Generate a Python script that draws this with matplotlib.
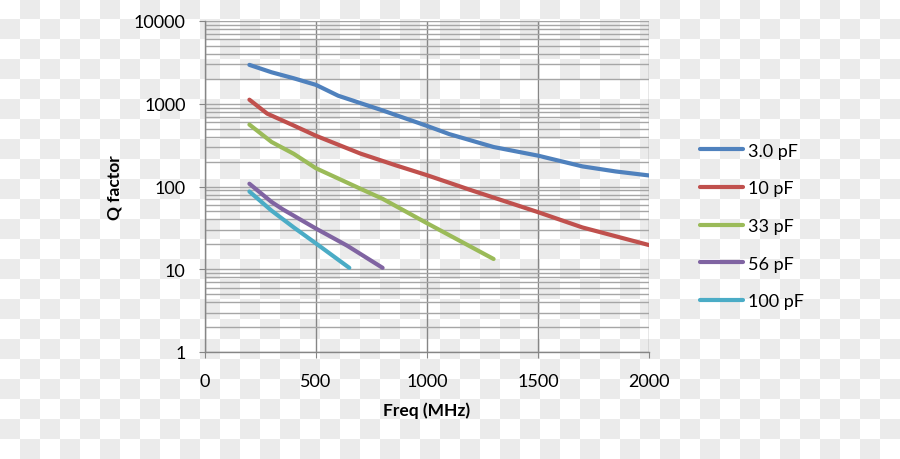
import numpy as np
import matplotlib
matplotlib.use("Agg")
import matplotlib.pyplot as plt
from matplotlib.ticker import FixedLocator, FuncFormatter, LogLocator, NullFormatter

plt.rcParams['font.family'] = ['Lato', 'DejaVu Sans']

# data (MHz, Q)
f_3p0 = [200, 300, 400, 500, 600, 800, 1000, 1100, 1300, 1500, 1700, 1850, 2000]
q_3p0 = [2950, 2400, 2030, 1690, 1250, 830, 540, 430, 300, 236, 175, 152, 136]

f_10 = [200, 280, 400, 500, 700, 860, 1000, 1200, 1500, 1700, 2000]
q_10 = [1120, 760, 545, 410, 250, 180, 137, 90, 49, 32, 19.6]

f_33 = [200, 300, 400, 500, 700, 800, 1000, 1300]
q_33 = [560, 345, 248, 166, 94, 71, 36, 13.3]

f_56 = [200, 300, 350, 500, 640, 800]
q_56 = [108, 65, 53, 31, 19.3, 10.4]

f_100 = [200, 300, 400, 500, 650]
q_100 = [87, 51, 32, 20.5, 10.4]

labels = ['3.0 pF', '10 pF', '33 pF', '56 pF', '100 pF']
colors = ['#4F81BD', '#C0504D', '#9BBB59', '#8064A2', '#4BACC6']

fig = plt.figure(figsize=(9, 4.6), dpi=100)

# checkerboard background
yy, xx = np.indices((460, 900))
board = np.where(((xx // 20) + (yy // 20)) % 2 == 1, 0.922, 1.0)
bg = fig.figimage(np.dstack([board, board, board]), 0, 0, origin='upper')
bg.set_zorder(-10)

ax = fig.add_axes([205/900, 1-353/460, 444/900, 331/460])
ax.set_facecolor('none')

series = [(f_3p0, q_3p0), (f_10, q_10), (f_33, q_33), (f_56, q_56), (f_100, q_100)]
for (f, q), lab, c in zip(series, labels, colors):
    ax.plot(f, q, color=c, lw=3, label=lab, solid_capstyle='round', zorder=3)

ax.set_yscale('log')
ax.set_xlim(0, 2000)
ax.set_ylim(1, 10000)
ax.xaxis.set_major_locator(FixedLocator([0, 500, 1000, 1500, 2000]))
ax.yaxis.set_major_locator(FixedLocator([1, 10, 100, 1000, 10000]))
ax.yaxis.set_major_formatter(FuncFormatter(lambda v, p: '%d' % v))
ax.yaxis.set_minor_locator(LogLocator(base=10, subs=np.arange(2, 10)))
ax.yaxis.set_minor_formatter(NullFormatter())

ax.grid(True, axis='x', which='major', color='#868686', lw=1)
ax.grid(True, axis='y', which='both', color='#a6a6a6', lw=1)
ax.set_axisbelow(True)

for s in ['top', 'right']:
    ax.spines[s].set_visible(False)
for s in ['left', 'bottom']:
    ax.spines[s].set_color('#868686')
    ax.spines[s].set_linewidth(1)

ax.tick_params(axis='x', which='major', length=4, color='#868686', pad=11, labelsize=13)
ax.tick_params(axis='y', which='major', length=4, color='#868686', pad=10, labelsize=13)
ax.tick_params(axis='y', which='minor', length=0)

ax.set_xlabel('Freq (MHz)', fontsize=12.5, fontweight='bold', labelpad=9)
ax.set_ylabel('Q factor', fontsize=12.5, fontweight='bold', labelpad=8)

fig.legend(loc='center left', bbox_to_anchor=(700/900, 1-227/460), frameon=False,
           fontsize=13, handlelength=2.4, handletextpad=0.25, labelspacing=1.2,
           borderpad=0, borderaxespad=0)

fig.savefig('out.png', dpi=100)
